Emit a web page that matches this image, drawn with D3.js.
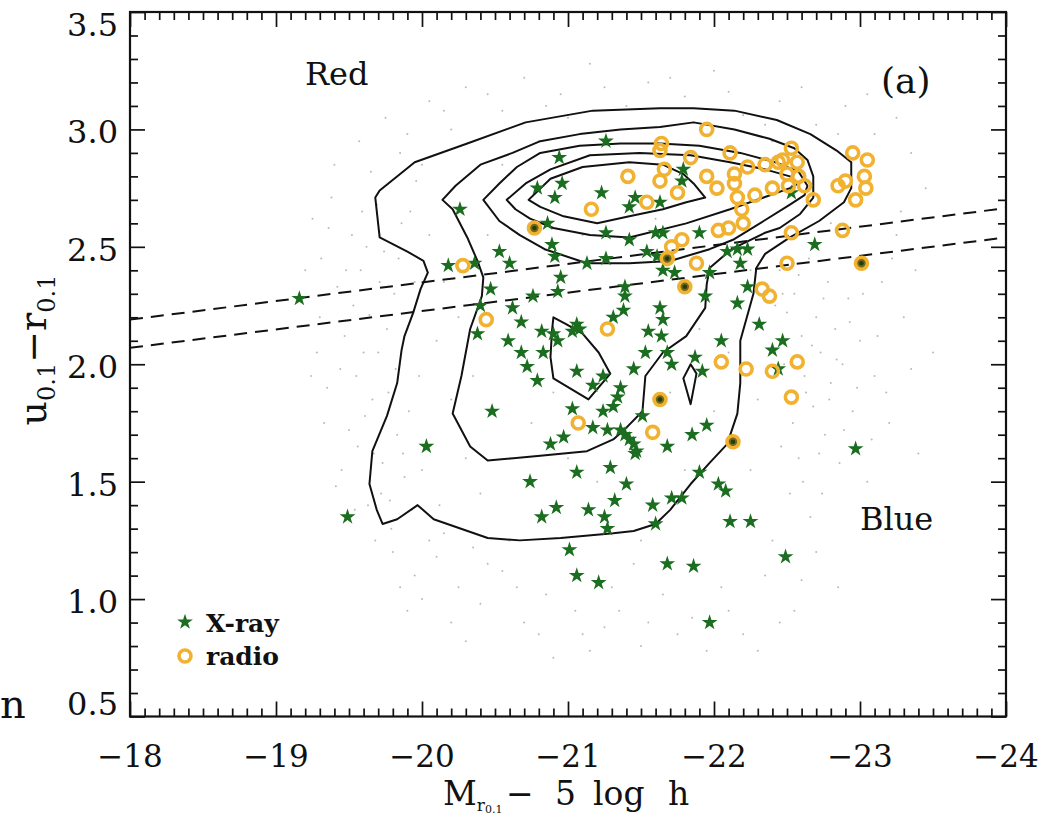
<!DOCTYPE html>
<html>
<head>
<meta charset="utf-8">
<script src="https://cdn.jsdelivr.net/npm/d3@7"></script>
<style>
  body { margin: 0; background: #fff; }
  svg { display: block; }
  text { font-family: "DejaVu Serif", "Liberation Serif", serif; fill: #111; }
</style>
</head>
<body>
<svg id="chart" width="1057" height="820"></svg>
<script>
// ---- axis ticks ----
const xMajorTicks = [-18, -19, -20, -21, -22, -23, -24];
const yMajorTicks = [0.5, 1.0, 1.5, 2.0, 2.5, 3.0, 3.5];

// ---- X-ray sources: [M_r - 5 log h, u-r] ----
const xrayStars = [
  [-20.26,2.66],[-20.18,2.42],[-20.36,2.43],[-20.53,2.48],[-20.60,2.43],[-20.47,2.32],[-20.40,2.25],[-20.62,2.24],[-19.16,2.28],
  [-21.26,2.95],[-20.94,2.88],[-20.96,2.77],[-20.79,2.75],[-20.91,2.71],[-21.23,2.73],[-21.46,2.71],[-21.42,2.67],[-21.63,2.69],[-21.79,2.83],[-21.78,2.78],
  [-21.26,2.56],[-20.86,2.60],[-20.89,2.51],[-20.91,2.46],[-21.13,2.43],[-21.26,2.45],[-21.42,2.53],[-21.60,2.56],[-21.65,2.56],[-21.54,2.48],
  [-21.61,2.46],[-21.65,2.40],[-21.90,2.56],[-22.09,2.48],[-22.16,2.49],[-22.23,2.49],[-22.18,2.43],[-21.97,2.39],[-22.23,2.33],[-22.16,2.26],
  [-20.95,2.37],[-20.93,2.31],[-20.76,2.29],[-21.39,2.33],[-21.39,2.29],[-21.63,2.24],[-21.94,2.29],[-21.73,2.39],[-22.69,2.51],[-22.53,2.73],
  [-20.68,2.18],[-20.38,2.13],[-20.59,2.10],[-20.82,2.14],[-20.90,2.13],[-20.93,2.10],[-21.06,2.17],[-21.08,2.15],[-21.03,2.14],[-21.31,2.20],
  [-21.38,2.23],[-20.68,2.05],[-20.83,2.05],[-20.72,1.99],[-20.79,1.93],[-21.06,1.97],[-21.17,1.91],[-21.24,1.95],[-21.36,1.90],[-21.45,1.98],
  [-21.34,1.86],[-21.31,1.82],[-21.24,1.80],[-20.48,1.80],[-21.03,1.81],[-21.17,1.73],[-21.27,1.72],[-21.36,1.72],[-21.42,1.68],[-21.47,1.63],
  [-20.97,1.69],[-20.88,1.66],[-20.03,1.65],[-20.74,1.50],[-21.06,1.54],[-21.29,1.56],[-21.40,1.49],[-19.49,1.35],[-20.82,1.35],
  [-21.32,1.42],[-20.92,1.39],[-21.14,1.38],[-21.25,1.35],[-21.27,1.30],[-21.58,1.40],[-21.71,1.43],[-21.78,1.43],[-21.60,1.32],[-21.90,1.54],
  [-22.03,1.49],[-22.08,1.46],[-22.11,1.33],[-22.25,1.33],[-22.49,1.18],[-21.01,1.21],[-21.06,1.10],[-21.21,1.07],[-21.68,1.15],[-21.86,1.14],[-21.97,0.90],
  [-21.65,2.19],[-21.55,2.14],[-21.64,2.12],[-22.05,2.10],[-22.31,2.17],[-22.47,2.10],[-22.40,2.06],[-21.53,2.05],[-21.68,2.05],[-21.71,2.00],
  [-21.87,2.03],[-21.92,1.97],[-22.44,1.98],[-21.51,1.78],[-21.39,1.70],[-21.45,1.66],[-21.46,1.62],[-21.68,1.65],[-21.85,1.70],[-21.95,1.74],[-22.97,1.64]
];

// ---- radio sources ----
const radioSources = [
  [-21.95,3.00],[-21.64,2.94],[-21.63,2.91],[-22.11,2.90],[-21.84,2.88],[-21.41,2.80],[-21.66,2.83],[-21.63,2.78],[-21.95,2.80],[-21.75,2.73],
  [-21.54,2.69],[-21.16,2.66],[-22.02,2.75],[-22.14,2.81],[-22.23,2.84],[-22.35,2.85],[-22.44,2.86],[-22.53,2.92],[-22.47,2.87],[-22.57,2.86],
  [-22.50,2.81],[-22.58,2.80],[-22.62,2.76],[-22.51,2.76],[-22.68,2.70],[-22.40,2.75],[-22.16,2.71],[-22.28,2.72],[-22.14,2.77],[-22.19,2.66],
  [-22.20,2.60],[-22.03,2.57],[-22.10,2.58],[-22.95,2.90],[-23.05,2.87],[-23.03,2.80],[-23.04,2.75],[-22.97,2.70],[-22.85,2.76],[-22.90,2.78],
  [-22.53,2.56],[-22.88,2.57],[-22.50,2.43],[-22.33,2.32],[-22.38,2.29],[-21.88,2.43],[-21.71,2.50],[-21.78,2.53],[-20.28,2.42],[-21.27,2.15],
  [-20.44,2.19],[-21.07,1.75],[-22.05,2.01],[-22.22,1.98],[-22.40,1.97],[-22.57,2.01],[-22.53,1.86],[-21.58,1.71]
];
// radio sources that also have an X-ray detection
const radioXraySources = [
  [-23.01,2.43],[-21.80,2.33],[-21.68,2.45],[-20.77,2.58],[-21.63,1.85],[-22.13,1.67]
];

// ---- parent galaxy sample (sparse background points) ----
const fieldGalaxies = [
  [-19.25,2.62],[-19.31,2.45],[-19.38,2.71],[-19.42,2.33],[-19.47,2.12],[-19.52,2.55],[-19.55,1.95],[-19.58,2.40],[-19.61,1.78],[-19.64,2.21],
  [-19.67,1.62],[-19.70,2.05],[-19.72,1.45],[-19.74,2.48],[-19.77,1.88],[-19.79,1.30],[-19.81,2.30],[-19.83,1.70],[-19.86,2.60],[-19.88,1.52],
  [-19.90,2.15],[-19.35,1.90],[-19.45,1.55],[-19.50,1.72],[-19.63,1.40],[-19.69,2.68],[-19.28,2.05],[-19.93,1.38],[-19.96,2.78],[-19.40,2.85],
  [-19.57,2.95],[-19.85,2.90],
  [-19.30,2.20],[-19.36,2.58],[-19.44,1.98],[-19.48,2.40],[-19.53,2.25],[-19.56,1.65],[-19.60,2.05],[-19.62,2.50],[-19.66,1.85],[-19.71,2.35],
  [-19.73,1.58],[-19.76,2.15],[-19.78,1.42],[-19.82,1.98],[-19.84,2.45],[-19.87,1.62],[-19.91,1.80],[-19.20,2.40],[-19.33,1.75],[-19.41,1.48],
  [-19.54,1.38],[-19.59,2.65],[-19.68,1.25],[-19.92,2.65],[-19.24,1.95],
  [-19.75,3.05],[-20.05,3.12],[-20.30,3.18],[-20.55,3.08],[-20.70,3.22],[-20.95,3.15],[-21.15,3.28],[-21.40,3.10],[-21.55,3.20],[-21.80,3.14],
  [-22.00,3.25],[-22.20,3.06],[-22.45,3.12],[-22.70,3.02],[-22.90,3.10],[-23.10,2.98],[-23.25,3.05],[-20.20,3.00],[-21.00,3.05],[-22.60,3.18],
  [-19.90,2.98],[-20.15,3.08],[-20.45,3.15],[-20.85,3.10],[-21.25,3.18],[-21.70,3.22],[-22.10,3.16],[-22.35,3.02],[-22.85,2.98],[-23.05,3.15],
  [-23.35,2.90],[-19.65,2.82],
  [-22.45,2.40],[-22.50,2.22],[-22.55,2.30],[-22.60,2.12],[-22.62,1.95],[-22.65,2.45],[-22.68,1.82],[-22.70,2.20],[-22.73,2.05],[-22.76,1.70],
  [-22.78,2.35],[-22.80,1.92],[-22.83,2.15],[-22.86,1.58],[-22.88,2.00],[-22.92,2.28],[-22.95,1.80],[-23.00,2.10],[-23.05,1.50],[-23.10,1.95],
  [-23.15,2.35],[-23.20,1.75],[-23.30,2.20],[-23.40,1.62],[-23.50,2.05],[-22.58,1.60],[-22.52,1.45],[-22.66,1.35],[-23.25,2.55],[-23.45,2.75],
  [-22.42,2.25],[-22.48,2.00],[-22.54,1.75],[-22.58,2.38],[-22.63,1.88],[-22.67,2.08],[-22.72,1.62],[-22.75,2.28],[-22.79,1.85],[-22.84,2.02],
  [-22.89,1.72],[-22.93,2.18],[-22.98,1.90],[-23.02,2.30],[-23.08,1.68],[-23.12,2.12],[-23.18,1.88],[-23.22,2.45],[-23.35,1.98],[-22.46,1.65],
  [-22.61,1.50],[-22.74,1.45],[-23.28,2.65],[-23.38,2.40],[-22.47,2.30],
  [-19.80,1.20],[-19.95,1.10],[-20.10,1.18],[-20.25,1.05],[-20.40,0.98],[-20.55,1.12],[-20.70,0.90],[-20.85,1.02],[-21.10,0.85],[-21.35,0.95],
  [-21.50,0.80],[-21.65,1.02],[-21.85,0.92],[-22.05,1.05],[-22.20,0.85],[-22.35,1.10],[-22.55,0.95],[-22.70,1.20],[-22.85,1.05],[-20.30,0.82],
  [-20.90,0.75],[-21.95,0.78],[-19.90,0.95],[-20.60,1.25],[-21.45,1.15],[-22.40,1.25],[-20.15,1.28],[-21.25,0.88],
  [-20.00,1.00],[-20.20,0.90],[-20.45,1.15],[-20.65,1.05],[-20.80,0.85],[-21.05,0.95],[-21.30,1.05],[-21.55,0.90],[-21.75,0.85],[-22.10,0.95],
  [-22.30,0.78],[-22.60,1.08],[-19.85,1.05],[-20.35,1.22],[-21.15,0.78],[-22.45,0.90],
  [-20.05,2.55],[-20.15,2.35],[-20.10,2.10],[-20.20,1.85],[-20.00,1.55],[-20.12,1.40],[-20.35,1.95],[-20.30,1.60],[-20.25,2.20],[-20.40,1.45],
  [-20.60,1.60],[-20.75,1.75],[-20.90,1.88],[-21.00,1.60],[-21.20,1.50],[-21.50,1.25],[-21.80,1.55],[-22.00,1.80],[-22.10,2.05],[-22.25,1.55],
  [-22.30,1.85],[-21.90,2.15],[-21.70,1.88],[-20.55,2.85],[-20.80,2.95],[-21.10,2.55],[-21.60,2.62],[-22.25,2.40],[-22.40,2.95],[-22.80,2.60],
  [-20.45,2.55],[-20.00,2.85],[-19.95,2.35],[-19.98,1.95],[-20.05,1.25]
];

// ---- density contours of the parent sample (outer to inner) ----
const contourLevel1 = [
  [-19.68,2.71],[-19.71,2.74],[-19.95,2.86],[-20.31,2.94],[-20.71,3.03],[-21.17,3.08],[-21.63,3.09],[-21.86,3.09],[-22.14,3.08],[-22.43,3.04],
  [-22.66,2.98],[-22.84,2.91],[-22.94,2.86],[-22.94,2.75],[-22.89,2.69],[-22.72,2.61],[-22.52,2.54],[-22.35,2.47],[-22.29,2.41],[-22.27,2.30],
  [-22.18,2.10],[-22.18,1.92],[-22.16,1.79],[-22.09,1.66],[-21.97,1.58],[-21.84,1.49],[-21.70,1.38],[-21.60,1.32],[-21.45,1.29],[-21.31,1.28],
  [-20.95,1.26],[-20.67,1.25],[-20.45,1.26],[-20.08,1.34],[-19.97,1.40],[-19.83,1.34],[-19.73,1.32],[-19.69,1.38],[-19.64,1.49],[-19.66,1.63],
  [-19.76,1.78],[-19.83,1.92],[-19.86,2.06],[-19.88,2.12],[-19.94,2.22],[-19.99,2.32],[-20.04,2.39],[-20.01,2.44],[-19.90,2.48],[-19.71,2.54]
];
const contourLevel2 = [
  [-20.14,2.70],[-20.23,2.76],[-20.40,2.85],[-20.62,2.90],[-20.81,2.95],[-21.08,2.98],[-21.36,3.00],[-21.63,3.01],[-21.86,3.03],[-22.14,3.00],
  [-22.38,2.96],[-22.55,2.92],[-22.64,2.87],[-22.68,2.80],[-22.68,2.71],[-22.59,2.64],[-22.45,2.58],[-22.35,2.56],[-22.12,2.49],[-21.97,2.41],
  [-21.95,2.34],[-21.94,2.24],[-21.81,2.12],[-21.65,2.05],[-21.53,1.95],[-21.51,1.80],[-21.40,1.73],[-21.31,1.68],[-21.13,1.63],[-20.81,1.61],
  [-20.45,1.59],[-20.33,1.65],[-20.21,1.79],[-20.27,1.95],[-20.33,2.15],[-20.41,2.29],[-20.42,2.37],[-20.38,2.44],[-20.31,2.54],[-20.21,2.66]
];
const contourLevel3 = [
  [-20.42,2.70],[-20.53,2.77],[-20.65,2.84],[-20.81,2.90],[-21.08,2.93],[-21.36,2.94],[-21.63,2.94],[-21.90,2.93],[-22.18,2.90],[-22.42,2.86],
  [-22.58,2.82],[-22.64,2.76],[-22.62,2.72],[-22.52,2.68],[-22.34,2.61],[-22.13,2.53],[-21.97,2.49],[-21.70,2.44],[-21.42,2.43],[-21.13,2.43],
  [-20.84,2.49],[-20.67,2.55],[-20.53,2.61]
];
const contourLevel4 = [
  [-20.58,2.70],[-20.71,2.77],[-20.88,2.83],[-21.15,2.89],[-21.49,2.90],[-21.84,2.89],[-22.11,2.86],[-22.35,2.83],[-22.52,2.80],[-22.58,2.77],
  [-22.52,2.75],[-22.34,2.71],[-22.11,2.66],[-21.81,2.60],[-21.42,2.54],[-21.15,2.55],[-20.90,2.58],[-20.74,2.62],[-20.64,2.66]
];
const contourLevel5 = [
  [-20.73,2.70],[-20.88,2.79],[-21.10,2.84],[-21.42,2.86],[-21.65,2.85],[-21.79,2.81],[-21.86,2.77],[-21.94,2.71],[-21.81,2.69],[-21.65,2.66],
  [-21.42,2.63],[-21.20,2.60],[-20.97,2.63],[-20.81,2.67]
];
const contourIslandA = [
  [-20.90,2.20],[-20.99,2.17],[-21.10,2.13],[-21.21,2.05],[-21.29,1.96],[-21.14,1.85],[-20.90,1.94],[-20.88,2.03],[-20.89,2.14]
];
const contourIslandB = [
  [-21.84,2.00],[-21.88,1.96],[-21.84,1.83],[-21.79,1.94]
];

// ---- red / blue dividing lines ----
const dividerUpper = [[-18, 2.19], [-24, 2.665]];
const dividerLower = [[-18, 2.07], [-24, 2.54]];

// ---------------------------------------------------------------
const svg = d3.select("#chart");
const pLeft = 130, pRight = 1006, pTop = 12, pBottom = 716.5;

const x = d3.scaleLinear().domain([-18, -24]).range([pLeft, pRight]);
const y = d3.scaleLinear().domain([0.5, 3.5]).range([pBottom, pTop]);

const GREEN = "#1b6e20";
const ORANGE = "#f1b232";
const RING_R = 6, RING_W = 3.6;
const STAR_SIZE = 78;

svg.append("clipPath").attr("id", "plotClip")
  .append("rect").attr("x", pLeft).attr("y", pTop).attr("width", pRight - pLeft).attr("height", pBottom - pTop);

const inner = svg.append("g").attr("clip-path", "url(#plotClip)");

// background sample
inner.append("g").selectAll("circle").data(fieldGalaxies).join("circle")
  .attr("cx", d => x(d[0])).attr("cy", d => y(d[1]))
  .attr("r", 1).attr("fill", "#8a8a8a").attr("opacity", 0.6);

// contours
const ring = d3.line().x(d => x(d[0])).y(d => y(d[1])).curve(d3.curveLinearClosed);
[contourLevel1, contourLevel2, contourLevel3, contourLevel4, contourLevel5, contourIslandA, contourIslandB]
  .forEach(c => {
    inner.append("path").attr("d", ring(c))
      .attr("fill", "none").attr("stroke", "#111").attr("stroke-width", 2)
      .attr("stroke-linejoin", "round");
  });

// dashed dividers
const straight = d3.line().x(d => x(d[0])).y(d => y(d[1]));
[dividerUpper, dividerLower].forEach(l => {
  inner.append("path").attr("d", straight(l))
    .attr("fill", "none").attr("stroke", "#111").attr("stroke-width", 2)
    .attr("stroke-dasharray", "13,8");
});

// X-ray stars
const star = d3.symbol().type(d3.symbolStar).size(STAR_SIZE);
inner.append("g").selectAll("path").data(xrayStars).join("path")
  .attr("d", star)
  .attr("transform", d => `translate(${x(d[0])},${y(d[1])})`)
  .attr("fill", GREEN);

// radio rings
inner.append("g").selectAll("circle").data(radioSources).join("circle")
  .attr("cx", d => x(d[0])).attr("cy", d => y(d[1]))
  .attr("r", RING_R).attr("fill", "none").attr("stroke", ORANGE).attr("stroke-width", RING_W);

const both = inner.append("g").selectAll("g").data(radioXraySources).join("g")
  .attr("transform", d => `translate(${x(d[0])},${y(d[1])})`);
both.append("circle").attr("r", RING_R).attr("fill", "#6f6a1c")
  .attr("stroke", ORANGE).attr("stroke-width", RING_W);
both.append("circle").attr("r", 2.3).attr("fill", "#2c3a10");

// ---- axes: inward ticks on all four sides ----
const xMinor = d3.range(-180, -241, -1).map(v => v / 10).filter(v => !Number.isInteger(v));
const yMinor = d3.range(5, 36).map(v => v / 10).filter(v => Math.abs(v * 2 - Math.round(v * 2)) > 1e-6);

function styleAxis(g) {
  g.select(".domain").remove();
  g.selectAll("line").attr("stroke", "#111").attr("stroke-width", 1.7);
  g.selectAll("text").remove();
}
const axisSpecs = [
  [() => d3.axisBottom(x), `translate(0,${pBottom})`, xMajorTicks, xMinor],
  [() => d3.axisTop(x), `translate(0,${pTop})`, xMajorTicks, xMinor],
  [() => d3.axisLeft(y), `translate(${pLeft},0)`, yMajorTicks, yMinor],
  [() => d3.axisRight(y), `translate(${pRight},0)`, yMajorTicks, yMinor]
];
axisSpecs.forEach(([make, tr, major, minor]) => {
  svg.append("g").attr("transform", tr)
    .call(make().tickValues(major).tickSize(-15).tickFormat(() => "")).call(styleAxis);
  svg.append("g").attr("transform", tr)
    .call(make().tickValues(minor).tickSize(-8).tickFormat(() => "")).call(styleAxis);
});

// frame
svg.append("rect").attr("x", pLeft).attr("y", pTop).attr("width", pRight - pLeft).attr("height", pBottom - pTop)
  .attr("fill", "none").attr("stroke", "#111").attr("stroke-width", 2.2);

// tick labels
const fmtX = d => "\u2212" + Math.abs(d);
svg.append("g").selectAll("text").data(xMajorTicks).join("text")
  .attr("x", d => x(d)).attr("y", 767)
  .attr("text-anchor", "middle").attr("font-size", 31)
  .text(fmtX);

const yShift = d => d === 3.5 ? 24 : (d === 0.5 ? -2 : 14);
svg.append("g").selectAll("text").data(yMajorTicks).join("text")
  .attr("x", 118).attr("y", d => y(d) + yShift(d))
  .attr("text-anchor", "end").attr("font-size", 32)
  .text(d => d.toFixed(1));

// axis titles
const xt = svg.append("text").attr("y", 805).attr("font-size", 33);
xt.append("tspan").attr("x", 443).text("M");
xt.append("tspan").attr("font-size", 17).attr("dy", 6).text("r");
xt.append("tspan").attr("font-size", 11).attr("dy", 2).text("0.1");
xt.append("tspan").attr("x", 506).attr("dy", -8).text("\u2212");
xt.append("tspan").attr("x", 555).text("5");
xt.append("tspan").attr("x", 593).text("log");
xt.append("tspan").attr("x", 668).text("h");

const yt = svg.append("text").attr("transform", "translate(46,350) rotate(-90)")
  .attr("text-anchor", "middle").attr("font-size", 38);
yt.append("tspan").text("u");
yt.append("tspan").attr("font-size", 24).attr("dy", 9).text("0.1");
yt.append("tspan").attr("dy", -9).text("\u2212r");
yt.append("tspan").attr("font-size", 24).attr("dy", 9).text("0.1");

// region labels
svg.append("text").attr("x", 305).attr("y", 85).attr("font-size", 32).text("Red");
svg.append("text").attr("x", 860).attr("y", 530).attr("font-size", 32).text("Blue");
svg.append("text").attr("x", 881).attr("y", 93).attr("font-size", 36).text("(a)");

// legend
svg.append("path").attr("d", d3.symbol().type(d3.symbolStar).size(STAR_SIZE)())
  .attr("transform", "translate(185,622)").attr("fill", GREEN);
svg.append("text").attr("x", 206).attr("y", 632).attr("font-size", 25).attr("font-weight", "bold").text("X-ray");
svg.append("circle").attr("cx", 185).attr("cy", 656).attr("r", RING_R)
  .attr("fill", "none").attr("stroke", ORANGE).attr("stroke-width", RING_W);
svg.append("text").attr("x", 206).attr("y", 665).attr("font-size", 25).attr("font-weight", "bold").text("radio");

// stray glyph at the lower-left margin
svg.append("text").attr("x", 0).attr("y", 718).attr("font-size", 40).text("n");
</script>
</body>
</html>
